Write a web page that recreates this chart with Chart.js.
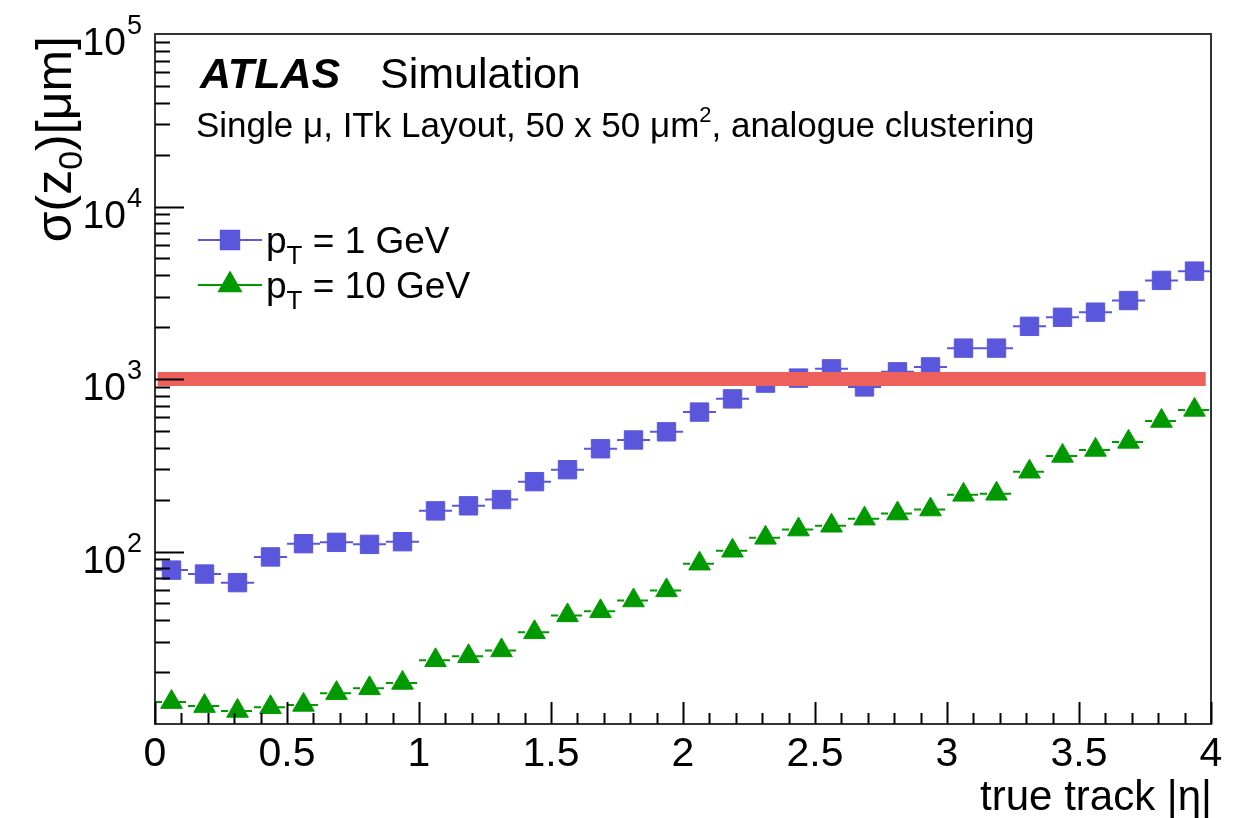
<!DOCTYPE html>
<html>
<head>
<meta charset="utf-8">
<script src="https://cdn.jsdelivr.net/npm/chart.js@4"></script>
<style>
  body { margin: 0; background: #fff; }
  canvas { display: block; }
</style>
</head>
<body>
<canvas id="chart" width="1238" height="818"></canvas>
<script>
// ===== data =====
const etaCenters = [0.0625, 0.1875, 0.3125, 0.4375, 0.5625, 0.6875, 0.8125, 0.9375,
                    1.0625, 1.1875, 1.3125, 1.4375, 1.5625, 1.6875, 1.8125, 1.9375,
                    2.0625, 2.1875, 2.3125, 2.4375, 2.5625, 2.6875, 2.8125, 2.9375,
                    3.0625, 3.1875, 3.3125, 3.4375, 3.5625, 3.6875, 3.8125, 3.9375];
const binHalfWidth = 0.0625;

// sigma(z0) in um, pT = 1 GeV
const sigmaPt1 = [78, 74, 66, 93, 111, 113, 110, 114,
                  172, 184, 200, 254, 298, 394, 443, 494,
                  643, 767, 947, 1012, 1145, 900, 1100, 1175,
                  1510, 1510, 2020, 2280, 2440, 2850, 3730, 4220];

// sigma(z0) in um, pT = 10 GeV
const sigmaPt10 = [13.4, 12.7, 11.9, 12.5, 12.9, 15.1, 16.1, 17.3,
                   23.4, 24.7, 26.7, 34, 42.6, 45, 52, 59.5,
                   85, 101, 120, 134, 141, 155, 166, 175,
                   213, 216, 290, 358, 388, 432, 571, 662];

// red reference band
const bandEta = [0.01, 3.98];
const bandSigma = [1000, 1000];

const xTickValues = [0, 0.5, 1, 1.5, 2, 2.5, 3, 3.5, 4];
const xTickLabels = ['0', '0.5', '1', '1.5', '2', '2.5', '3', '3.5', '4'];
const yMajorTicks = [10, 100, 1000, 10000, 100000];

const BLUE = '#5a57dc';
const GREEN = '#009a00';
const RED = '#ee605c';
const FONT = '"Liberation Sans", Arial, Helvetica, sans-serif';

// ===== helpers =====
function font(size, style) {
    return (style ? style + ' ' : '') + size + 'px ' + FONT;
}

// draw pieces of text in a row; each piece: [text, size, dy, style]
function drawRun(ctx, x, y, pieces) {
    ctx.textAlign = 'left';
    ctx.textBaseline = 'alphabetic';
    for (const p of pieces) {
        ctx.font = font(p[1], p[3]);
        ctx.fillText(p[0], x, y + (p[2] || 0));
        x += ctx.measureText(p[0]).width;
    }
    return x;
}

function runWidth(ctx, pieces) {
    let w = 0;
    for (const p of pieces) {
        ctx.font = font(p[1], p[3]);
        w += ctx.measureText(p[0]).width;
    }
    return w;
}

// ===== horizontal bin-width bars =====
const errorBars = {
    id: 'errorBars',
    beforeDatasetsDraw(chart) {
        const ctx = chart.ctx;
        const xs = chart.scales.x, ys = chart.scales.y;
        const sets = [
            { vals: sigmaPt1, color: BLUE, dash: [] },
            { vals: sigmaPt10, color: GREEN, dash: [7, 5] }
        ];
        ctx.save();
        ctx.lineWidth = 2;
        for (const s of sets) {
            ctx.strokeStyle = s.color;
            ctx.setLineDash(s.dash);
            s.vals.forEach((v, i) => {
                const y = ys.getPixelForValue(v);
                ctx.beginPath();
                ctx.moveTo(xs.getPixelForValue(etaCenters[i] - binHalfWidth), y);
                ctx.lineTo(xs.getPixelForValue(etaCenters[i] + binHalfWidth), y);
                ctx.stroke();
            });
        }
        ctx.restore();
    }
};

// ===== ROOT-like frame, ticks, labels, texts =====
const rootFrame = {
    id: 'rootFrame',
    afterDraw(chart) {
        const ctx = chart.ctx;
        const a = chart.chartArea;
        const xs = chart.scales.x, ys = chart.scales.y;
        ctx.save();
        ctx.fillStyle = '#000';

        // frame
        ctx.lineWidth = 2;
        ctx.strokeStyle = '#333';
        ctx.strokeRect(a.left, a.top, a.right - a.left, a.bottom - a.top);
        ctx.strokeStyle = '#000';

        // x ticks
        for (let i = 0; i <= 40; i++) {
            const v = i / 10;
            const px = Math.round(xs.getPixelForValue(v)) + 0.5;
            const len = (i % 5 === 0) ? 22 : 11;
            ctx.beginPath();
            ctx.moveTo(px, a.bottom);
            ctx.lineTo(px, a.bottom - len);
            ctx.stroke();
        }
        ctx.font = font(41);
        ctx.textAlign = 'center';
        ctx.textBaseline = 'alphabetic';
        xTickValues.forEach((v, i) => {
            ctx.fillText(xTickLabels[i], xs.getPixelForValue(v), a.bottom + 42);
        });

        // y ticks (log)
        for (let d = 0; d < yMajorTicks.length; d++) {
            const base = yMajorTicks[d];
            for (let m = 1; m <= 9; m++) {
                const v = base * m;
                if (v > ys.max || v < ys.min) continue;
                if (m === 1 && (v === ys.min || v === ys.max)) continue;
                const py = Math.round(ys.getPixelForValue(v)) + 0.5;
                const len = m === 1 ? 29 : 15;
                ctx.beginPath();
                ctx.moveTo(a.left, py);
                ctx.lineTo(a.left + len, py);
                ctx.stroke();
            }
        }
        yMajorTicks.forEach(v => {
            if (v <= ys.min) return;
            const py = ys.getPixelForValue(v);
            const exp = String(Math.round(Math.log10(v)));
            ctx.font = font(39);
            ctx.textAlign = 'right';
            ctx.fillText('10', 126, py + 21);
            ctx.font = font(27);
            ctx.textAlign = 'left';
            ctx.fillText(exp, 127, py);
        });

        // x title
        ctx.font = font(42);
        ctx.textAlign = 'right';
        ctx.fillText('true track |\u03b7|', a.right + 1, 810);

        // y title, rotated, ending at the top of the frame
        const yPieces = [['\u03c3(z', 50], ['0', 34, 11], [')[\u03bcm]', 50]];
        const yw = runWidth(ctx, yPieces);
        ctx.save();
        ctx.translate(71, a.top + 2 + yw);
        ctx.rotate(-Math.PI / 2);
        drawRun(ctx, 0, 0, yPieces);
        ctx.restore();

        // ATLAS label
        ctx.textAlign = 'left';
        ctx.font = font(43, 'italic bold');
        ctx.fillText('ATLAS', 200, 88);
        ctx.font = font(43);
        ctx.fillText('Simulation', 380, 88);
        drawRun(ctx, 196, 137, [
            ['Single \u03bc, ITk Layout, 50 x 50 \u03bcm', 35],
            ['2', 22, -15],
            [', analogue clustering', 35]
        ]);

        // legend
        const entries = [
            { y: 240, color: BLUE, style: 'rect', r: 13, text: ' = 1 GeV' },
            { y: 285, color: GREEN, style: 'triangle', r: 12.5, text: ' = 10 GeV' }
        ];
        entries.forEach(e => {
            ctx.strokeStyle = e.color;
            ctx.lineWidth = 2;
            ctx.setLineDash([]);
            ctx.beginPath();
            ctx.moveTo(198, e.y);
            ctx.lineTo(262, e.y);
            ctx.stroke();
            ctx.fillStyle = e.color;
            Chart.helpers.drawPoint(ctx, { pointStyle: e.style, radius: e.r, rotation: 0, borderWidth: 1 }, 230, e.y);
            ctx.fill();
            ctx.fillStyle = '#000';
            drawRun(ctx, 266, e.y + 13, [['p', 37], ['T', 26, 11], [e.text, 37]]);
        });

        ctx.restore();
    }
};

// ===== chart =====
const ctx = document.getElementById('chart').getContext('2d');

new Chart(ctx, {
    type: 'scatter',
    data: {
        datasets: [
            {
                label: 'reference',
                data: bandEta.map((x, i) => ({ x: x, y: bandSigma[i] })),
                showLine: true,
                borderColor: RED,
                borderWidth: 14,
                pointRadius: 0,
                order: 0
            },
            {
                label: 'pT = 1 GeV',
                data: etaCenters.map((x, i) => ({ x: x, y: sigmaPt1[i] })),
                pointStyle: 'rect',
                pointRadius: 13,
                backgroundColor: BLUE,
                borderColor: BLUE,
                borderWidth: 1,
                order: 1
            },
            {
                label: 'pT = 10 GeV',
                data: etaCenters.map((x, i) => ({ x: x, y: sigmaPt10[i] })),
                pointStyle: 'triangle',
                pointRadius: 12.5,
                backgroundColor: GREEN,
                borderColor: GREEN,
                borderWidth: 1,
                order: 2
            }
        ]
    },
    options: {
        responsive: false,
        animation: false,
        devicePixelRatio: 1,
        layout: { padding: { left: 155, right: 27, top: 34, bottom: 94 } },
        plugins: { legend: { display: false }, tooltip: { enabled: false } },
        scales: {
            x: { type: 'linear', min: 0, max: 4, display: false },
            y: { type: 'logarithmic', min: 10, max: 100000, display: false }
        }
    },
    plugins: [errorBars, rootFrame]
});
</script>
</body>
</html>
